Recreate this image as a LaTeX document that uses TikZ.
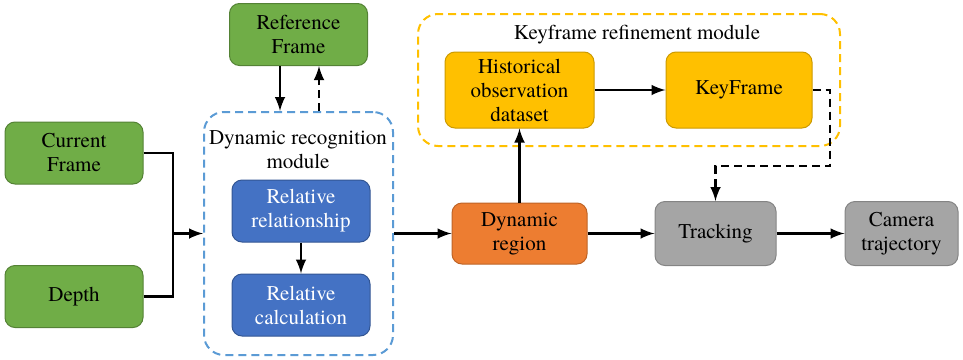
\documentclass[tikz,border=0pt]{standalone}
\usepackage{fontspec}
\setmainfont{Liberation Serif}
\newfontfamily\tnr{texgyretermes-regular.otf}
\usetikzlibrary{arrows,positioning}
\definecolor{grn}{HTML}{70AD47}
\definecolor{blu}{HTML}{4472C4}
\definecolor{org}{HTML}{ED7D31}
\definecolor{gld}{HTML}{FFC000}
\definecolor{gry}{HTML}{A5A5A5}
\definecolor{dblu}{HTML}{5B9BD5}

\begin{document}
\begin{tikzpicture}[x=0.5pt,y=-0.5pt,
  txt/.style={font=\tnr\fontsize{10.5}{12}\selectfont},
  box/.style={txt, rounded corners=5pt, draw, line width=0.5pt, align=center,
    inner sep=1pt, minimum width=69pt, minimum height=31pt},
  gbox/.style={box, fill=grn, draw=grn!75!black},
  bbox/.style={box, fill=blu, draw=blu!75!black, text=white},
  obox/.style={box, fill=org, draw=org!80!black},
  ybox/.style={box, fill=gld, draw=gld!80!black},
  hbox/.style={box, fill=gry, draw=gry!80!black},
  modbox/.style={draw, rounded corners=10pt, line width=1pt, dash pattern=on 4pt off 2.5pt},
  arr/.style={-latex, line width=1.4pt},
  darr/.style={-latex, line width=1.4pt, dash pattern=on 4pt off 2.5pt}]
\useasboundingbox (0,0) rectangle (963,359);

% containers
\node[modbox, draw=dblu, minimum width=94.5pt, minimum height=121.5pt] (drm) at (298.5,233.5) {};
\node[modbox, draw=gld, minimum width=211pt, minimum height=66pt] (krm) at (629,80) {};
\node[txt, align=center] (drmlabel) at (298,150) {Dynamic recognition\\module};
\node[txt] (krmlabel) at (637,35) {Keyframe refinement module};

% inputs
\node[gbox] (ref) at (298.5,34.5) {Reference\\Frame};
\node[gbox] (cur) at (74,153) {Current\\Frame};
\node[gbox] (depth) at (74,296.5) {Depth};

\node[bbox] (rrel) at (301,211) {Relative\\relationship};
\node[bbox] (rcal) [below=0.5pt*31 of rrel] {Relative\\calculation};

\node[obox, minimum width=67.5pt, minimum height=30.5pt] (dyn) at (519.5,233.5) {Dynamic\\region};
\node[ybox, minimum width=74.5pt, minimum height=38pt] (hist) at (519.5,90) {Historical\\observation\\dataset};
\node[ybox, minimum width=73pt, minimum height=38pt] (kf) at (739,90) {KeyFrame};
\node[hbox, minimum width=60.5pt, minimum height=32pt] (trk) at (715.5,233.5) {Tracking};
\node[hbox, minimum width=56.5pt, minimum height=32pt] (cam) at (901.5,233.5) {Camera\\trajectory};

\coordinate (jn) at (173,233.5);
\coordinate (kfturn) at (830,166);

\draw[line width=1.4pt] (cur.east) -| (jn);
\draw[line width=1.4pt] (depth.east) -| (jn);
\draw[arr] (jn) -- (drm.west);
\draw[arr] ([xshift=-9.25pt]ref.south) -- ([xshift=-9.25pt]ref.south |- drm.north);
\draw[darr] ([xshift=10.25pt]ref.south |- drm.north) -- ([xshift=10.25pt]ref.south);
\draw[arr] (rrel) -- (rcal);
\draw[arr] (drm.east) -- (dyn.west);
\draw[arr] (dyn.north) -- (hist.south);
\draw[arr] (hist) -- (kf);
\draw[darr] (kf.east) -| (kfturn) -| (trk.north);
\draw[arr] (dyn.east) -- (trk.west);
\draw[arr] (trk) -- (cam);
\end{tikzpicture}
\end{document}
